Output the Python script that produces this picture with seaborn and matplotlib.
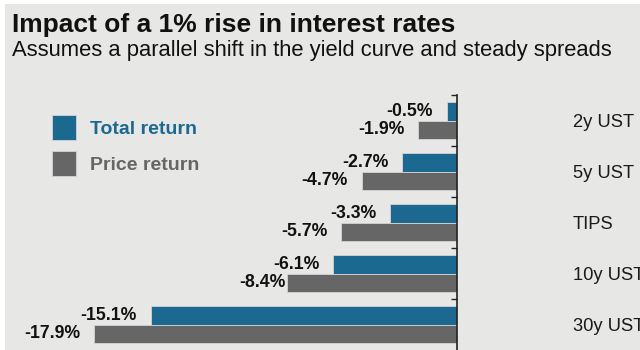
import matplotlib
matplotlib.use("Agg")
import matplotlib.pyplot as plt
from matplotlib.patches import Rectangle
from matplotlib.ticker import FixedLocator
import seaborn as sns
import pandas as pd

categories = ["2y UST", "5y UST", "TIPS", "10y UST", "30y UST"]
total_return = [-0.5, -2.7, -3.3, -6.1, -15.1]
price_return = [-1.9, -4.7, -5.7, -8.4, -17.9]
series_names = ["Total return", "Price return"]

BLUE = "#1b6890"
GRAY = "#666666"
BG = "#e7e7e5"
FONT = "Liberation Sans"

df = pd.DataFrame({
    "category": categories * 2,
    "value": total_return + price_return,
    "series": [series_names[0]] * len(categories) + [series_names[1]] * len(categories),
})

sns.set_theme(style="white")
plt.rcParams["font.family"] = [FONT, "DejaVu Sans"]

W, H = 640, 350
fig = plt.figure(figsize=(6.4, 3.5), dpi=100, facecolor="white")
fig.patches.append(Rectangle((5 / W, 0), 1, (H - 4) / H, transform=fig.transFigure,
                             facecolor=BG, edgecolor="none", zorder=-10))

ax = fig.add_axes([5 / W, 0, 452 / W, 255 / H])
ax.set_facecolor("none")

sns.barplot(data=df, x="value", y="category", hue="series", order=categories,
            hue_order=series_names, palette=[BLUE, GRAY], width=0.706,
            orient="h", ax=ax, edgecolor="#d4d4d4", linewidth=0.6, saturation=1)

ax.set_xlim(-452 / 20.28, 0)
ax.set_ylim(4.5, -0.5)
ax.set_xlabel("")
ax.set_ylabel("")
ax.set_xticks([])

for s in ["left", "top", "bottom"]:
    ax.spines[s].set_visible(False)
ax.spines["right"].set_color("#222222")
ax.spines["right"].set_linewidth(1.2)

ax.yaxis.tick_right()
ax.yaxis.set_minor_locator(FixedLocator([-0.5, 0.5, 1.5, 2.5, 3.5]))
ax.tick_params(axis="y", which="major", length=0, pad=83.5, labelsize=13.2,
               labelcolor="#1a1a1a")
ax.tick_params(axis="y", which="minor", direction="in", length=4, width=1,
               color="#222222", right=True, left=False)
for t in ax.get_yticklabels():
    t.set_ha("left")

for cont in ax.containers:
    texts = ax.bar_label(cont, fmt="%.1f%%", padding=10, fontsize=12.7,
                         fontweight="bold", color="#111111")
    for t in texts:
        if t.get_text() == "-8.4%":
            t.xyann = (-1, 0)

handles, labels = ax.get_legend_handles_labels()
leg = ax.legend(handles, labels, loc="upper left",
                bbox_to_anchor=(52 / W, 1 - 115 / H), bbox_transform=fig.transFigure,
                frameon=False, prop={"family": FONT, "weight": "bold", "size": 14},
                labelcolor=[BLUE, GRAY], handlelength=1.24, handleheight=1.6,
                handletextpad=0.72, labelspacing=0.59, borderpad=0, borderaxespad=0)
for h in leg.legend_handles:
    h.set_edgecolor("#d4d4d4")

fig.text(12 / W, 1 - 32 / H, "Impact of a 1% rise in interest rates", fontsize=19,
         fontweight="bold", color="#111111", va="baseline", ha="left", family=FONT)
fig.text(12 / W, 1 - 56 / H, "Assumes a parallel shift in the yield curve and steady spreads",
         fontsize=15.8, color="#111111", va="baseline", ha="left", family=FONT)

fig.savefig("out.png", dpi=100, facecolor="white")
